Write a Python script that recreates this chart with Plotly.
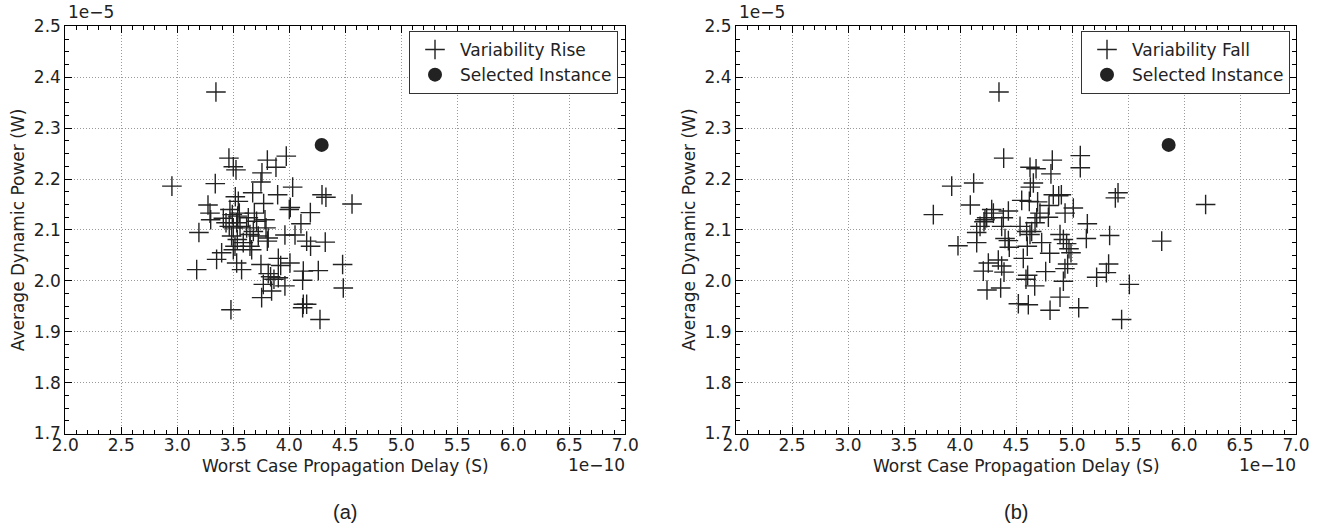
import plotly.graph_objects as go

# Monte Carlo variability samples: delay in units of 1e-10 s, power in units of 1e-5 W
rise_delay = [
    3.345, 3.461, 3.500, 3.524, 3.804, 3.973, 3.881, 3.756, 3.747, 2.952,
    3.339, 4.030, 3.673, 3.518, 3.545, 3.896, 4.292, 4.327, 4.560, 3.274,
    3.771, 4.009, 4.000, 4.188, 3.292, 3.298, 3.470, 3.491, 3.539, 3.411,
    3.435, 3.530, 3.500, 3.634, 3.688, 3.708, 3.783, 3.792, 4.104, 3.961,
    4.051, 3.193, 3.515, 3.500, 3.589, 3.649, 3.664, 3.396, 3.351, 3.530,
    3.574, 3.747, 3.902, 3.923, 4.006, 3.173, 3.804, 3.812, 4.155, 4.190,
    4.321, 4.125, 4.119, 4.259, 4.476, 4.482, 3.812, 3.833, 3.863, 3.902,
    3.768, 3.842, 3.961, 3.753, 3.479, 4.125, 4.155, 4.119, 4.274, 3.554,
    3.560, 3.619, 3.679, 3.723, 3.485, 3.536, 3.464, 3.649,
]
rise_power = [
    2.371, 2.241, 2.224, 2.218, 2.237, 2.245, 2.223, 2.212, 2.194, 2.186,
    2.191, 2.184, 2.173, 2.165, 2.156, 2.169, 2.169, 2.164, 2.151, 2.149,
    2.152, 2.144, 2.140, 2.134, 2.133, 2.120, 2.140, 2.130, 2.127, 2.123,
    2.114, 2.114, 2.104, 2.124, 2.133, 2.117, 2.120, 2.104, 2.112, 2.090,
    2.090, 2.095, 2.068, 2.061, 2.075, 2.068, 2.061, 2.055, 2.042, 2.035,
    2.022, 2.032, 2.044, 2.030, 2.035, 2.022, 2.078, 2.084, 2.078, 2.068,
    2.076, 2.019, 2.001, 2.020, 2.032, 1.986, 2.014, 2.008, 2.003, 2.006,
    1.993, 1.980, 1.990, 1.967, 1.943, 1.954, 1.954, 1.947, 1.924, 2.133,
    2.107, 2.104, 2.097, 2.088, 2.088, 2.081, 2.107, 2.091,
]

fall_delay = [
    4.348, 4.390, 4.824, 5.074, 5.074, 4.625, 4.679, 4.812, 3.926, 4.122,
    4.655, 4.628, 4.833, 4.881, 4.905, 4.092, 4.551, 4.619, 4.693, 4.795,
    5.012, 3.762, 4.283, 4.298, 4.238, 4.223, 4.214, 4.432, 4.387, 4.372,
    4.179, 4.149, 4.149, 3.982, 4.789, 4.714, 4.685, 4.670, 4.938, 4.536,
    4.595, 4.625, 4.640, 4.402, 4.432, 4.440, 4.601, 4.729, 4.801, 4.893,
    4.923, 4.952, 4.973, 4.991, 4.565, 4.253, 4.208, 4.342, 4.372, 4.393,
    4.604, 4.589, 4.667, 4.765, 4.937, 4.961, 4.923, 4.241, 4.363, 4.521,
    4.610, 4.893, 4.804, 5.060, 5.220, 5.137, 5.128, 5.411, 5.387, 6.193,
    5.336, 5.801, 5.327, 5.307, 5.512, 5.443,
]
fall_power = [
    2.371, 2.241, 2.237, 2.246, 2.222, 2.223, 2.220, 2.210, 2.186, 2.192,
    2.192, 2.184, 2.169, 2.167, 2.169, 2.149, 2.158, 2.156, 2.155, 2.148,
    2.143, 2.130, 2.140, 2.133, 2.124, 2.120, 2.116, 2.137, 2.124, 2.107,
    2.107, 2.095, 2.075, 2.069, 2.125, 2.133, 2.124, 2.114, 2.133, 2.107,
    2.097, 2.091, 2.097, 2.083, 2.079, 2.066, 2.068, 2.075, 2.054, 2.091,
    2.081, 2.073, 2.063, 2.055, 2.044, 2.035, 2.019, 2.041, 2.029, 2.017,
    2.011, 2.003, 1.990, 2.018, 2.024, 2.033, 1.999, 1.982, 1.986, 1.955,
    1.953, 1.968, 1.942, 1.947, 2.007, 2.112, 2.083, 2.173, 2.163, 2.150,
    2.089, 2.078, 2.033, 2.016, 1.993, 1.924,
]

# Chosen instance for each case
sel_rise_delay = [4.289]
sel_rise_power = [2.267]
sel_fall_delay = [5.863]
sel_fall_power = [2.267]

x_range = [2.0, 7.0]
y_range = [1.7, 2.5]

INK = "#222222"
FONT = "DejaVu Sans"
W, H = 1325, 529
TICK_SIZE = 17
LABEL_SIZE = 17

fig = go.Figure()

cross = dict(symbol="cross-thin-open", size=14, color=INK,
             line=dict(width=1.4, color=INK))
dot = dict(symbol="circle", size=14, color=INK, line=dict(width=0))

fig.add_trace(go.Scatter(x=rise_delay, y=rise_power, mode="markers",
                         marker=cross, name="Variability Rise",
                         xaxis="x", yaxis="y", legend="legend"))
fig.add_trace(go.Scatter(x=sel_rise_delay, y=sel_rise_power, mode="markers",
                         marker=dot, name="Selected Instance",
                         xaxis="x", yaxis="y", legend="legend"))
fig.add_trace(go.Scatter(x=fall_delay, y=fall_power, mode="markers",
                         marker=cross, name="Variability Fall",
                         xaxis="x2", yaxis="y2", legend="legend2"))
fig.add_trace(go.Scatter(x=sel_fall_delay, y=sel_fall_power, mode="markers",
                         marker=dot, name="Selected Instance",
                         xaxis="x2", yaxis="y2", legend="legend2"))

# Panel frames in pixels
left_px = (65.3, 625.3)
right_px = (736.0, 1296.0)
top_px, bottom_px = 26.3, 433.5


def px_x(v):
    return v / W


def px_y(v):
    return 1 - v / H


common = dict(
    automargin=False,
    showline=True, linecolor="black", linewidth=1, mirror="allticks",
    ticks="inside", ticklen=7, tickwidth=1, tickcolor="black",
    showgrid=True, gridcolor="#9a9a9a", griddash="1px,2px", gridwidth=1,
    zeroline=False, tickformat=".1f",
    tickfont=dict(family=FONT, size=TICK_SIZE, color=INK),
)
xcommon = dict(common, range=x_range, dtick=0.5, tick0=2.0,
               ticklabelstandoff=-4,
               minor=dict(dtick=0.1, ticks="inside", ticklen=4,
                          tickcolor="black", showgrid=False))
ycommon = dict(common, range=y_range, dtick=0.1, tick0=1.7,
               minor=dict(dtick=0.025, ticks="inside", ticklen=4,
                          tickcolor="black", showgrid=False))

ydom = [px_y(bottom_px), px_y(top_px)]

legend_style = dict(xanchor="right", yanchor="top",
                    bordercolor="#333333", borderwidth=1, bgcolor="white",
                    font=dict(family=FONT, size=17, color=INK),
                    tracegroupgap=0, itemwidth=40)

fig.update_layout(
    template="none",
    width=W, height=H, autosize=False,
    margin=dict(l=0, r=0, t=0, b=0, pad=0),
    paper_bgcolor="white", plot_bgcolor="white",
    font=dict(family=FONT, size=LABEL_SIZE, color=INK),
    xaxis=dict(xcommon, domain=[px_x(left_px[0]), px_x(left_px[1])], anchor="y"),
    yaxis=dict(ycommon, domain=ydom, anchor="x"),
    xaxis2=dict(xcommon, domain=[px_x(right_px[0]), px_x(right_px[1])], anchor="y2"),
    yaxis2=dict(ycommon, domain=ydom, anchor="x2"),
    legend=dict(legend_style, x=px_x(618), y=px_y(31)),
    legend2=dict(legend_style, x=px_x(1290), y=px_y(31)),
    showlegend=True,
)

annotations = []
for (x0, x1), tag in ((left_px, "(a)"), (right_px, "(b)")):
    cx = (x0 + x1) / 2
    annotations += [
        dict(text="Worst Case Propagation Delay (S)", x=px_x(cx), y=px_y(466),
             xanchor="center", yanchor="middle"),
        dict(text="1e\u221210", x=px_x(x1 + 2), y=px_y(465),
             xanchor="right", yanchor="middle"),
        dict(text="1e\u22125", x=px_x(x0 + 1), y=px_y(12),
             xanchor="left", yanchor="middle"),
        dict(text="Average Dynamic Power (W)", x=px_x(x0 - 47),
             y=px_y((top_px + bottom_px) / 2), textangle=-90,
             xanchor="center", yanchor="middle"),
        dict(text=tag, x=px_x(cx), y=px_y(512), xanchor="center",
             yanchor="middle", font=dict(family="Liberation Sans", size=20, color=INK)),
    ]
for a in annotations:
    a.update(xref="paper", yref="paper", showarrow=False)
    a.setdefault("font", dict(family=FONT, size=LABEL_SIZE, color=INK))
fig.update_layout(annotations=annotations)

fig.write_html("out.html")
